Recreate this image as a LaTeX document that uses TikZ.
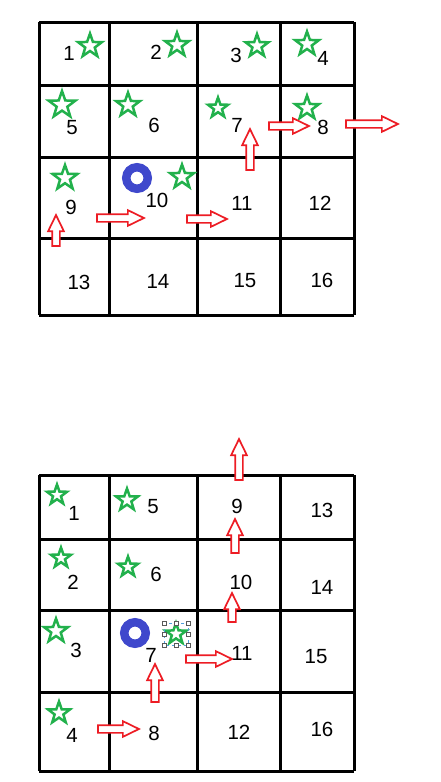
\documentclass[tikz,border=0pt]{standalone}
\usepackage{fontspec}
\setmainfont{Liberation Sans}
\usetikzlibrary{shapes.geometric,shapes.arrows}
\definecolor{stargreen}{RGB}{34,177,76}
\definecolor{ringblue}{RGB}{63,72,204}
\definecolor{mvred}{RGB}{237,28,36}
\definecolor{selblue}{RGB}{80,160,220}
\tikzset{
  cell/.style={font=\fontsize{20.5}{20.5}\selectfont, inner sep=0pt},
  st/.style={star, star points=5, star point ratio=2.5, draw=stargreen, line width=2.5pt, minimum size=#1, inner sep=0pt},
  mv/.style={single arrow, draw=mvred, fill=white, line width=1.7pt, inner xsep=0pt, inner ysep=3pt, single arrow head extend=4pt, single arrow tip angle=52, minimum height=#1},
  ring/.style={circle, draw=ringblue, line width=8.5pt, minimum size=21.5pt, inner sep=0pt},
  grip/.style={draw=gray!70!black, fill=white, line width=0.6pt, minimum size=4pt, inner sep=0pt}
}

\begin{document}
\begin{tikzpicture}[x=1pt, y=-1pt]
\useasboundingbox (0,0) rectangle (441,782);
% top grid
\foreach \gx in {39,109,197,280,354} \draw[line width=3pt] (\gx,22) -- (\gx,315);
\foreach \gy in {22,85,157,238,315} \draw[line width=3pt] (39,\gy) -- (354,\gy);
% bottom grid
\foreach \gx in {39,109,197,280,354} \draw[line width=3pt] (\gx,475) -- (\gx,771);
\foreach \gy in {475,539,610,692,771} \draw[line width=3pt] (39,\gy) -- (354,\gy);

% top numbers
\foreach \n/\px/\py in {1/69/53, 2/156/52, 3/236/55, 4/323/58,
  5/72/128, 6/154/125, 7/237/125, 8/323/127,
  9/71/207, 10/157/200, 11/242/203, 12/320/203,
  13/79/282, 14/158/281, 15/245/281, 16/322/280}
  \node[cell] (t\n) at (\px,\py) {\n};
% bottom numbers
\foreach \n/\px/\py in {1/74/513, 5/153/507, 9/237/506, 13/322/510,
  2/73/582, 6/156/574, 10/241/582, 14/322/587,
  3/76/650, 7/151/655, 11/242/653, 15/316/657,
  4/72/735, 8/154/733, 12/239/732, 16/322/729}
  \node[cell] (b\n) at (\px,\py) {\n};

% stars
\foreach \k/\px/\py/\sz in {1/90/46/25, 2/177/45/25, 3/257/46/24, 4/307/44/25,
  5/62/105/28, 6/128/105/25, 7/218/108/21, 8/307/108/25,
  9/65/178/26, 10/182/177/25}
  \node[st=\sz pt] (ts\k) at (\px,\py) {};
\foreach \k/\px/\py/\sz in {1/57/495/21, 5/127/500/23, 2/61/558/21, 6/128/567/21,
  3/56/631/25, 7/176/634/22, 4/59/713/23}
  \node[st=\sz pt] (bs\k) at (\px,\py) {};

% rings
\node[ring] (tring) at (137,178) {};
\node[ring] (bring) at (135,633) {};

% selection frame round star 7
\draw[selblue, dashed, line width=0.6pt] (164,623) rectangle (188,645);
\foreach \hx/\hy in {164/623, 176/623, 188/623, 164/634, 188/634, 164/645, 176/645, 188/645}
  \node[grip] at (\hx,\hy) {};

% moves, top
\node[mv=31pt, rotate=90] (tm1) at (56,234.5) {};
\node[mv=47pt] (tm2) at (116.5,218) {};
\node[mv=40pt] (tm3) at (203,219) {};
\node[mv=41pt, rotate=90] (tm4) at (250,153.5) {};
\node[mv=40pt] (tm5) at (285,126) {};
\node[mv=52pt] (tm6) at (368,124) {};
% moves, bottom
\node[mv=41pt] (bm1) at (114.5,729) {};
\node[mv=38pt, rotate=90] (bm2) at (155,687) {};
\node[mv=46pt] (bm3) at (205,659) {};
\node[mv=29pt, rotate=90] (bm4) at (232,611.5) {};
\node[mv=34pt, rotate=90] (bm5) at (235,540) {};
\node[mv=41pt, rotate=90] (bm6) at (239,463.5) {};
\end{tikzpicture}
\end{document}
